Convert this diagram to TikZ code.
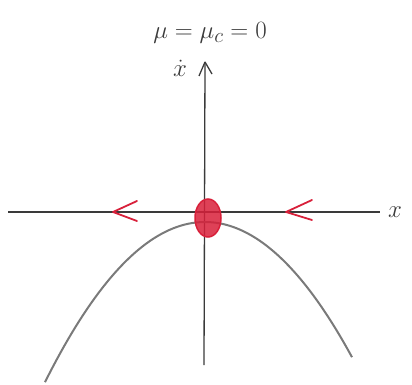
\documentclass[tikz,border=0pt]{standalone}
\usetikzlibrary{arrows.meta,shapes.geometric,calc}
\definecolor{axisgray}{HTML}{3A3A3A}
\definecolor{curvegray}{HTML}{7A7A7A}
\definecolor{penred}{HTML}{D8203A}
\begin{document}
\begin{tikzpicture}[x=1pt,y=-1pt,
  axisline/.style={axisgray,line width=1.3pt},
  curve/.style={curvegray,line width=2pt},
  flowarrow/.style={penred,line width=1.8pt,line cap=round,line join=round},
  lbl/.style={axisgray,inner sep=0pt}]
\useasboundingbox (0,0) rectangle (412,385);
% axes
\coordinate (yb) at (204,365);
\coordinate (yt) at (205,62);
\coordinate (xl) at (8,212);
\coordinate (xr) at (380,212);
\draw[axisline] (yb) -- (yt);
\draw[axisline] (yt) -- ++(-6,14);
\draw[axisline] (yt) -- ++(7,12);
\draw[axisline] (xl) -- (xr);
% parabola
\draw[curve] plot[domain=45:352,samples=80] (\x,{222+0.00625*(\x-205)*(\x-205)});
% fixed point
\node[draw=penred,fill=penred,fill opacity=0.85,line width=1.5pt,ellipse,minimum width=26pt,minimum height=38pt,inner sep=0pt] (fp) at (208,218) {};
% flow arrows
\coordinate (la) at (113,212);
\coordinate (ra) at (286,212);
\draw[flowarrow] ($(la)+(24,-11)$) -- (la) -- ($(la)+(24,9)$);
\draw[flowarrow] ($(ra)+(26,-12)$) -- (ra) -- ($(ra)+(26,8)$);
% labels
\node[lbl,font=\Huge] (mu) at (210,33) {$\mu=\mu_c=0$};
\node[lbl,font=\Huge] (xd) at (180,68) {$\dot{x}$};
\node[lbl,font=\Huge] (xlab) at (395,212) {$x$};
\end{tikzpicture}
\end{document}
